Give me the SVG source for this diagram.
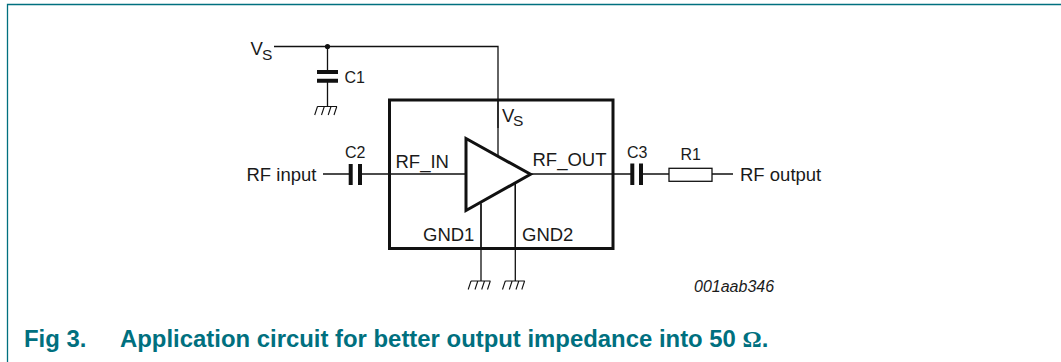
<svg xmlns="http://www.w3.org/2000/svg" width="1061" height="362" viewBox="0 0 1061 362">
<style>
text{font-family:"Liberation Sans",Arial,sans-serif;fill:#1a1a1a}
.l{font-size:18.500px}
.u{font-size:15.500px}
.s{font-size:16px}
.w{fill:none;stroke:#111;stroke-width:1.3}
.t{fill:none;stroke:#111;stroke-width:3}
.g{fill:none;stroke:#111;stroke-width:1.100}
.cap{fill:none;stroke:#111;stroke-width:4}
.c{fill:#00707f;font-size:23.900px;font-weight:bold}
</style>
<defs>
<g id="gnd"><path class="g" d="M-10,0.500H9.500M-10,0.500L-12.800,9M-3.200,0.500L-6,9M3.500,0.500L.7,9M9.300,0.500L6.500,9"/></g>
</defs>
<path d="M7.500,362V4.500H1061" fill="none" stroke="#00707f" stroke-width="1.300"/>
<g id="connectors">
<path class="w" d="M274,46.500H498V128"/>
<path class="w" d="M327.500,46.500V72M327.500,81V106"/>
<path class="w" d="M323,174H350M360,174H466"/>
<path class="w" d="M530,174H632M641,174H669M712,174H733"/>
<path class="w" d="M481,204V281M515.300,184V281"/>
<circle cx="327.500" cy="46.500" r="2.600" fill="#111"/>
</g>
<g id="ic"><rect class="t" x="389.500" y="100" width="223.500" height="148.500"/></g>
<g id="amp"><path d="M466,138.500V210.500L530.500,174.300Z" fill="#fff" stroke="#111" stroke-width="3"/><path class="w" d="M498,100V155M481,202V249M515.300,183V249"/></g>
<g id="c1"><path class="cap" d="M317,72H338M317,80.700H338"/><text class="s" x="344.500" y="83">C1</text><use href="#gnd" x="327.500" y="106"/></g>
<g id="c2"><path class="cap" d="M350.700,164V185M360,164V185"/><text class="s" x="345" y="158">C2</text></g>
<g id="c3"><path class="cap" d="M632.300,163.500V185M641,163.500V185"/><text class="s" x="627" y="158">C3</text></g>
<g id="r1"><rect x="669" y="168.300" width="43" height="13" fill="#fff" stroke="#111" stroke-width="1.300"/><text class="s" x="680.500" y="160">R1</text></g>
<g id="gnd1"><use href="#gnd" x="481" y="280.500"/></g>
<g id="gnd2"><use href="#gnd" x="515.300" y="280.500"/></g>
<g id="labels">
<text class="l" x="250.500" y="55">V</text><text class="u" x="262" y="59.500">S</text>
<text class="l" x="502" y="122">V</text><text class="u" x="513" y="126">S</text>
<text class="l" x="246.500" y="181">RF input</text>
<text class="l" x="395.500" y="168">RF_IN</text>
<text class="l" x="532.500" y="166">RF_OUT</text>
<text class="l" x="740" y="181">RF output</text>
<text class="l" x="423" y="241">GND1</text>
<text class="l" x="522" y="241">GND2</text>
<text class="s" x="694" y="291.500" font-style="italic">001aab346</text>
</g>
<g id="caption">
<text class="c" x="24" y="347">Fig 3.</text>
<text class="c" x="120" y="347">Application circuit for better output impedance into 50 <tspan style="font-family:'Liberation Serif',serif">Ω</tspan>.</text>
</g>
</svg>
